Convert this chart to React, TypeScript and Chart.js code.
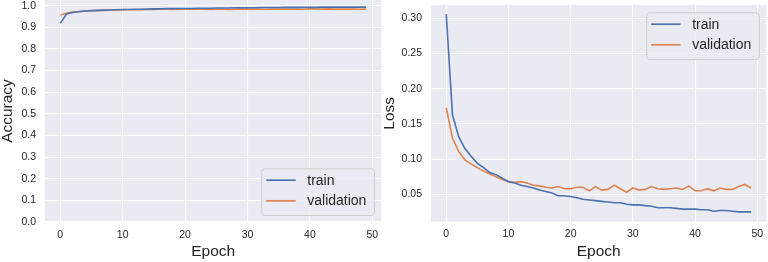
import React, { useEffect, useRef } from "react";
import { Chart, registerables } from "chart.js";

Chart.register(...registerables);

// ---------- data ----------
const epochs = [
  0, 1, 2, 3, 4, 5, 6, 7, 8, 9, 10, 11, 12, 13, 14, 15, 16, 17, 18, 19,
  20, 21, 22, 23, 24, 25, 26, 27, 28, 29, 30, 31, 32, 33, 34, 35, 36, 37, 38, 39,
  40, 41, 42, 43, 44, 45, 46, 47, 48, 49,
];

const trainAccuracy = [
  0.918, 0.961, 0.968, 0.972, 0.975, 0.977, 0.978, 0.979, 0.98, 0.981,
  0.982, 0.982, 0.983, 0.983, 0.984, 0.985, 0.985, 0.986, 0.986, 0.987,
  0.987, 0.987, 0.988, 0.988, 0.988, 0.989, 0.989, 0.989, 0.99, 0.99,
  0.99, 0.99, 0.991, 0.991, 0.991, 0.991, 0.992, 0.992, 0.992, 0.992,
  0.992, 0.992, 0.993, 0.993, 0.993, 0.993, 0.993, 0.993, 0.993, 0.993,
];

const valAccuracy = [
  0.957, 0.965, 0.97, 0.973, 0.975, 0.976, 0.977, 0.978, 0.979, 0.98,
  0.981, 0.981, 0.981, 0.981, 0.982, 0.982, 0.983, 0.983, 0.982, 0.983,
  0.983, 0.983, 0.983, 0.984, 0.982, 0.984, 0.983, 0.982, 0.984, 0.985,
  0.984, 0.984, 0.984, 0.983, 0.984, 0.984, 0.984, 0.984, 0.984, 0.983,
  0.985, 0.985, 0.984, 0.985, 0.984, 0.984, 0.984, 0.984, 0.983, 0.984,
];

const trainLoss = [
  0.306, 0.163, 0.132, 0.115, 0.104, 0.094, 0.088, 0.081, 0.078, 0.073,
  0.068, 0.066, 0.063, 0.061, 0.059, 0.056, 0.054, 0.052, 0.048, 0.048,
  0.047, 0.045, 0.043, 0.042, 0.041, 0.04, 0.039, 0.038, 0.038, 0.036,
  0.035, 0.035, 0.034, 0.033, 0.031, 0.031, 0.031, 0.03, 0.029, 0.029,
  0.029, 0.028, 0.028, 0.026, 0.027, 0.027, 0.026, 0.025, 0.025, 0.025,
];

const valLoss = [
  0.173, 0.13, 0.111, 0.099, 0.093, 0.088, 0.083, 0.079, 0.075, 0.071,
  0.068, 0.067, 0.068, 0.066, 0.063, 0.062, 0.06, 0.059, 0.061, 0.058,
  0.058, 0.06, 0.06, 0.055, 0.061, 0.056, 0.057, 0.063, 0.058, 0.053,
  0.059, 0.056, 0.057, 0.061, 0.058, 0.057, 0.058, 0.059, 0.057, 0.062,
  0.055, 0.055, 0.058, 0.055, 0.059, 0.057, 0.057, 0.061, 0.064, 0.059,
];

const seriesLabels = ["train", "validation"];
const xTicks = [0, 10, 20, 30, 40, 50];
const accTicks = [0, 0.1, 0.2, 0.3, 0.4, 0.5, 0.6, 0.7, 0.8, 0.9, 1.0];
const lossTicks = [0.05, 0.1, 0.15, 0.2, 0.25, 0.3];

// ---------- style ----------
const FONT = "'Liberation Sans', Arial, Helvetica, sans-serif";
const BG = "#EAEAF2";
const TEXT = "#262626";
const COLORS = ["#4C72B0", "#DD8452"];

const areaBg = {
  id: "areaBg",
  beforeDraw(chart: any) {
    const { ctx, chartArea } = chart;
    ctx.save();
    ctx.fillStyle = BG;
    ctx.fillRect(chartArea.left, chartArea.top, chartArea.right - chartArea.left, chartArea.bottom - chartArea.top);
    ctx.restore();
  },
};

function makeLegend(anchor: "br" | "tr") {
  return {
    id: "boxLegend",
    afterDraw(chart: any) {
      const { ctx, chartArea } = chart;
      const ds = chart.data.datasets;
      ctx.save();
      ctx.font = `14px ${FONT}`;
      let maxW = 0;
      ds.forEach((d: any) => (maxW = Math.max(maxW, ctx.measureText(d.label).width)));
      const w = 46 + maxW + 7.5;
      const h = 46.7;
      const left = chartArea.right - 7.5 - w;
      const top = anchor === "br" ? chartArea.bottom - 7 - h : chartArea.top + 7.3;
      ctx.beginPath();
      (ctx as any).roundRect(left + 0.5, top + 0.5, w, h, 3);
      ctx.fillStyle = "rgba(234,234,242,0.8)";
      ctx.fill();
      ctx.strokeStyle = "#CCCCCC";
      ctx.lineWidth = 1;
      ctx.stroke();
      ds.forEach((d: any, i: number) => {
        const y = top + 11.9 + i * 20.6;
        ctx.beginPath();
        ctx.moveTo(left + 5, y);
        ctx.lineTo(left + 34.5, y);
        ctx.strokeStyle = d.borderColor;
        ctx.lineWidth = 1.7;
        ctx.stroke();
        ctx.fillStyle = TEXT;
        ctx.textBaseline = "middle";
        ctx.textAlign = "left";
        ctx.fillText(d.label, left + 46, y + 0.5);
      });
      ctx.restore();
    },
  };
}

type PanelProps = {
  seriesA: number[];
  seriesB: number[];
  yTicks: number[];
  yMin: number;
  yMax: number;
  yDecimals: number;
  yTitle: string;
  yWidth: number;
  yTitleOffset: number;
  padTop: number;
  padRight: number;
  xHeight: number;
  legend: "br" | "tr";
};

function Panel(p: PanelProps) {
  const ref = useRef<HTMLCanvasElement | null>(null);
  useEffect(() => {
    if (!ref.current) return;
    const chart = new Chart(ref.current, {
      type: "line",
      data: {
        datasets: [p.seriesA, p.seriesB].map((s, i) => ({
          label: seriesLabels[i],
          data: epochs.map((e, j) => ({ x: e, y: s[j] })),
          borderColor: COLORS[i],
          backgroundColor: COLORS[i],
          borderWidth: 1.6,
          pointRadius: 0,
          tension: 0,
          fill: false,
        })),
      },
      options: {
        responsive: false,
        animation: false,
        devicePixelRatio: 1,
        layout: { padding: { top: p.padTop, right: p.padRight, left: 0, bottom: 0 } },
        plugins: { legend: { display: false }, tooltip: { enabled: false } },
        scales: {
          x: {
            type: "linear",
            min: -2.45,
            max: 51.45,
            afterBuildTicks: (s: any) => {
              s.ticks = xTicks.map((v) => ({ value: v }));
            },
            afterFit: (s: any) => {
              s.height = p.xHeight;
              s.paddingLeft = 0;
              s.paddingRight = 0;
            },
            grid: { color: "#FFFFFF", lineWidth: 1.1, drawTicks: false },
            border: { display: false },
            ticks: {
              padding: 6.5,
              color: TEXT,
              font: { family: FONT, size: 10.5 },
              maxRotation: 0,
              callback: (v: any) => String(v),
            },
            title: {
              display: true,
              text: "Epoch",
              color: TEXT,
              font: { family: FONT, size: 15.5, lineHeight: 1.2 },
              padding: { top: 0, bottom: 0.5 },
            },
          },
          y: {
            type: "linear",
            min: p.yMin,
            max: p.yMax,
            afterBuildTicks: (s: any) => {
              s.ticks = p.yTicks.map((v) => ({ value: v }));
            },
            afterFit: (s: any) => {
              s.width = p.yWidth;
              s.paddingTop = 0;
              s.paddingBottom = 0;
            },
            grid: { color: "#FFFFFF", lineWidth: 1.1, drawTicks: false },
            border: { display: false },
            ticks: {
              padding: 9,
              color: TEXT,
              font: { family: FONT, size: 10.5 },
              callback: (v: any) => Number(v).toFixed(p.yDecimals),
            },
            title: {
              display: true,
              text: p.yTitle,
              color: TEXT,
              font: { family: FONT, size: 15.5, lineHeight: 1 },
              padding: { top: p.yTitleOffset, bottom: 0 },
            },
          },
        },
      },
      plugins: [areaBg, makeLegend(p.legend)],
    } as any);
    return () => chart.destroy();
  }, []);
  return <canvas ref={ref} width={384} height={262} style={{ display: "block", width: 384, height: 262 }} />;
}

export default function App() {
  return (
    <div
      style={{
        position: "absolute",
        left: 0,
        top: 0,
        width: 768,
        height: 262,
        background: "#FFFFFF",
        display: "flex",
        flexDirection: "row",
      }}
    >
      <Panel
        seriesA={trainAccuracy}
        seriesB={valAccuracy}
        yTicks={accTicks}
        yMin={0}
        yMax={1.026}
        yDecimals={1}
        yTitle="Accuracy"
        yWidth={45}
        yTitleOffset={0}
        padTop={0}
        padRight={2.6}
        xHeight={40}
        legend="br"
      />
      <Panel
        seriesA={trainLoss}
        seriesB={valLoss}
        yTicks={lossTicks}
        yMin={0.0111}
        yMax={0.319}
        yDecimals={2}
        yTitle="Loss"
        yWidth={47}
        yTitleOffset={-2}
        padTop={5}
        padRight={1.7}
        xHeight={40.3}
        legend="tr"
      />
    </div>
  );
}
